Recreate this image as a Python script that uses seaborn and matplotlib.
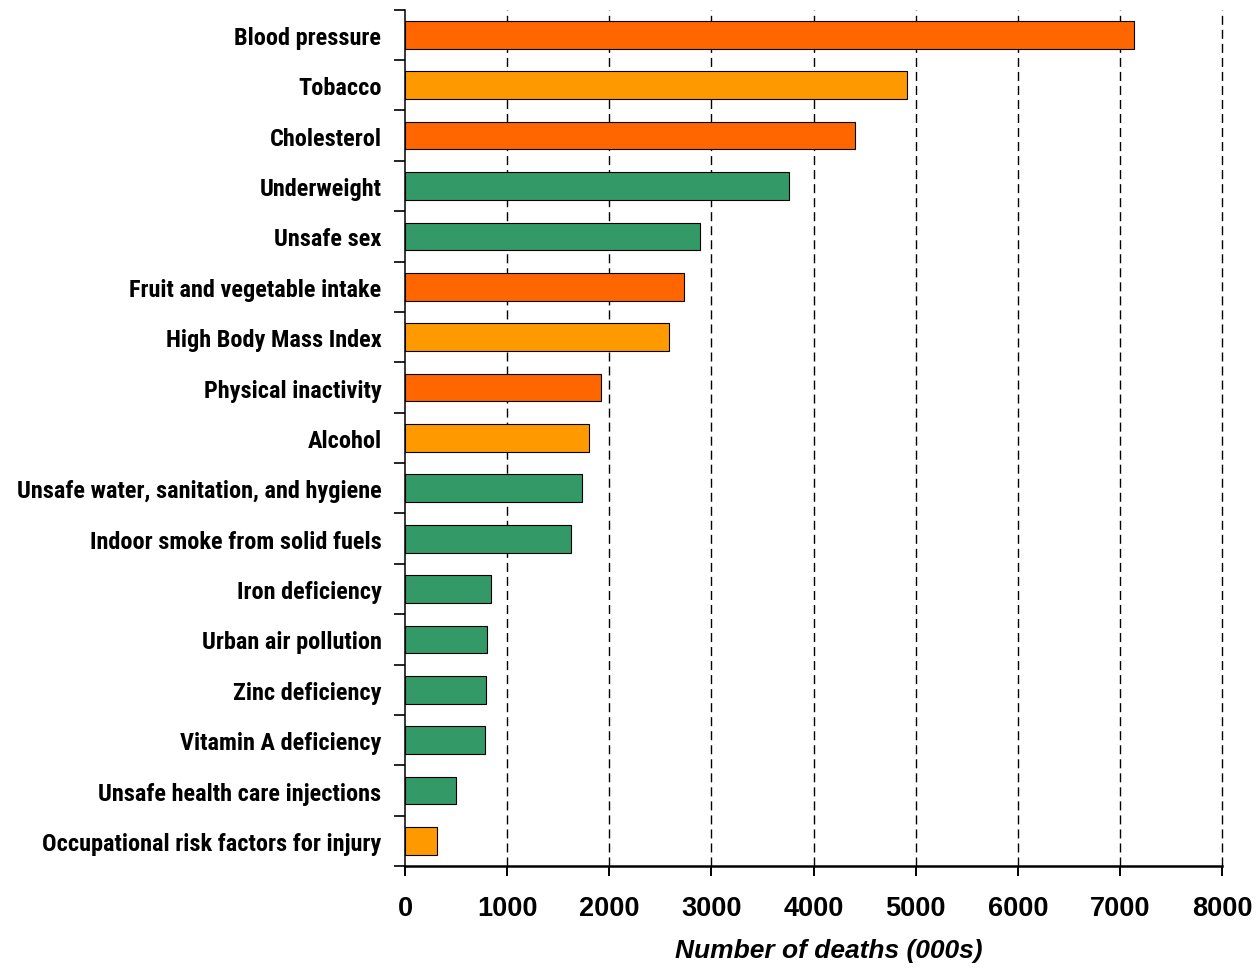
import numpy as np
import pandas as pd
import matplotlib.pyplot as plt
import seaborn as sns
from matplotlib.ticker import MultipleLocator, FixedLocator

# Risk factors and deaths (000s)
risk_factors = ["Blood pressure", "Tobacco", "Cholesterol", "Underweight", "Unsafe sex",
                "Fruit and vegetable intake", "High Body Mass Index", "Physical inactivity",
                "Alcohol", "Unsafe water, sanitation, and hygiene", "Indoor smoke from solid fuels",
                "Iron deficiency", "Urban air pollution", "Zinc deficiency", "Vitamin A deficiency",
                "Unsafe health care injections", "Occupational risk factors for injury"]
deaths = [7140, 4910, 4410, 3760, 2890, 2730, 2580, 1920, 1800, 1730, 1620,
          840, 800, 790, 780, 500, 310]
groups = ["high", "mid", "high", "low", "low", "high", "mid", "high", "mid", "low", "low",
          "low", "low", "low", "low", "low", "mid"]

group_colors = {"high": "#FF6600", "mid": "#FF9900", "low": "#339966"}

df = pd.DataFrame({"factor": risk_factors, "deaths": deaths, "group": groups})

sns.set_style("white", {"text.color": "black", "axes.labelcolor": "black",
                        "xtick.color": "black", "ytick.color": "black",
                        "axes.edgecolor": "black"})
plt.rcParams['font.family'] = ['Liberation Sans', 'DejaVu Sans']

fig = plt.figure(figsize=(12.56, 9.7), dpi=100)
ax = fig.add_axes([0.3225, 0.106, 0.6505, 0.883])

sns.barplot(data=df, x="deaths", y="factor", hue="group", palette=group_colors,
            dodge=False, width=0.55, saturation=1, edgecolor="black", linewidth=0.8,
            legend=False, ax=ax)

n = len(risk_factors)
ax.set_xlim(0, 8000)
ax.set_ylim(n - 0.5, -0.5)
ax.xaxis.set_major_locator(MultipleLocator(1000))

# dashed vertical grid
for xv in range(1000, 8001, 1000):
    ax.axvline(xv, color="black", linestyle=(0, (6.5, 3.6)), linewidth=1.0,
               zorder=0, clip_on=False)

# category labels in a condensed bold face
ax.set_yticks(range(n))
ax.set_yticklabels(risk_factors, fontdict={"family": ["Roboto Condensed", "DejaVu Sans"],
                                           "weight": "bold", "size": 17.5})
ax.set_xticks(range(0, 8001, 1000))
ax.set_xticklabels([str(v) for v in range(0, 8001, 1000)],
                   fontdict={"weight": "bold", "size": 19.5})

# tick marks on y axis between categories
ax.yaxis.set_minor_locator(FixedLocator(np.arange(-0.5, n, 1.0)))
ax.tick_params(axis="y", which="major", length=0, pad=17)
ax.tick_params(axis="y", which="minor", length=8, width=1.2, direction="out", left=True)
ax.tick_params(axis="x", which="major", length=7, width=1.4, direction="out", bottom=True, pad=14)

ax.set_ylabel("")
ax.set_xlabel("Number of deaths (000s)", fontsize=19, fontweight="bold", style="italic")
ax.xaxis.set_label_coords(0.518, -0.084)

sns.despine(ax=ax, top=True, right=True)
ax.spines["left"].set_linewidth(1.1)
ax.spines["bottom"].set_linewidth(1.8)

plt.savefig("out.png", dpi=100)
